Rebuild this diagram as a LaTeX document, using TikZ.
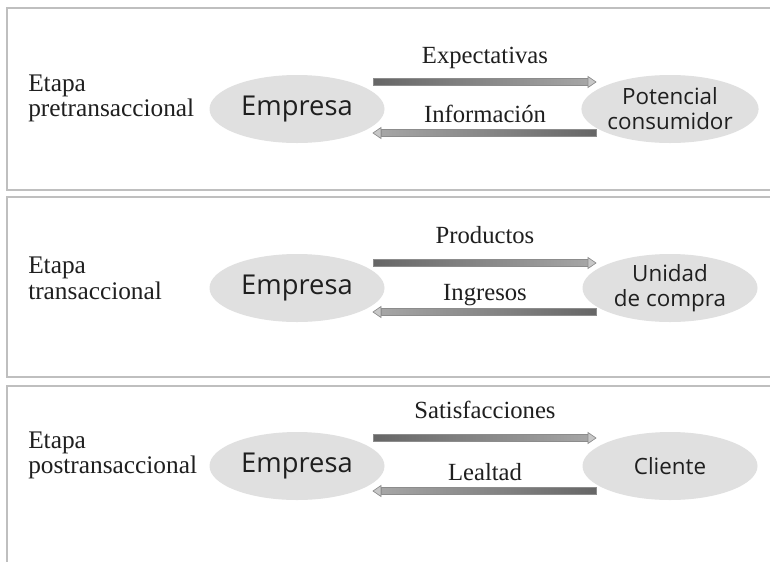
\documentclass[tikz,border=0pt]{standalone}
\usepackage{fontspec}
\setmainfont{Liberation Serif}
\newfontfamily\elfont{Open Sans}
\usetikzlibrary{shapes.geometric}
\newlength\unitpx
\setlength\unitpx{0.75pt}
\tikzset{
  stagebox/.style={draw=black!25, line width=1.4pt},
  bubble/.style={ellipse, fill=black!12, draw=none, minimum width=175\unitpx, minimum height=68\unitpx, inner sep=0pt, align=center},
  bigtxt/.style={font=\elfont\fontsize{20.5}{22}\selectfont, text=black!88},
  smalltxt/.style={font=\elfont\fontsize{16.8}{18.75}\selectfont, text=black!88},
  lbl/.style={font=\fontsize{18.5}{20}\selectfont, anchor=base, inner sep=0pt, text=black!88},
  stage/.style={font=\fontsize{19}{20}\selectfont, anchor=base west, inner sep=0pt, text=black!88},
}
% right-pointing arrow from x1 to x2 at y
\newcommand\myRarrow[3]{%
  \shade[left color=black!60, right color=black!35, draw=black!45, line width=0.3pt]
    (#1,#3-3.5) rectangle (#2-8,#3+3.5);
  \filldraw[fill=black!22, draw=black!45, line width=0.5pt]
    (#2-8,#3-5.5) -- (#2,#3) -- (#2-8,#3+5.5) -- cycle;}
\newcommand\myLarrow[3]{%
  \shade[left color=black!35, right color=black!60, draw=black!45, line width=0.3pt]
    (#1+8,#3-3.5) rectangle (#2,#3+3.5);
  \filldraw[fill=black!22, draw=black!45, line width=0.5pt]
    (#1+8,#3-5.5) -- (#1,#3) -- (#1+8,#3+5.5) -- cycle;}
\begin{document}
\begin{tikzpicture}[x=0.75pt,y=-0.75pt]
\useasboundingbox (0,0) rectangle (770,561);
\fill[white] (0,0) rectangle (770,561);
% boxes
\draw[stagebox] (775,8) -- (7,8) -- (7,190) -- (775,190);
\draw[stagebox] (775,197) -- (7,197) -- (7,377) -- (775,377);
\draw[stagebox] (775,386) -- (7,386) -- (7,565);
% stage 1
\node[stage] (s1a) at (28,91) {Etapa};
\node[stage] (s1b) at (28,116) {pretransaccional};
\node[bubble, bigtxt] (e1) at (297,109) {Empresa};
\node[bubble, smalltxt] (c1) at (670,109) {Potencial\\consumidor};
\node[lbl] (l1a) at (485,63) {Expectativas};
\node[lbl] (l1b) at (485,122) {Información};
\myRarrow{373}{596}{82}
\myLarrow{373}{596}{133}
% stage 2
\node[stage] (s2a) at (28,273) {Etapa};
\node[stage] (s2b) at (28,299) {transaccional};
\node[bubble, bigtxt] (e2) at (297,288) {Empresa};
\node[bubble, smalltxt] (c2) at (670,288) {Unidad\\de compra};
\node[lbl] (l2a) at (485,243) {Productos};
\node[lbl] (l2b) at (485,300) {Ingresos};
\myRarrow{373}{596}{263}
\myLarrow{373}{596}{312}
% stage 3
\node[stage] (s3a) at (28,448) {Etapa};
\node[stage] (s3b) at (28,473) {postransaccional};
\node[bubble, bigtxt] (e3) at (297,466) {Empresa};
\node[bubble, smalltxt] (c3) at (670,466) {Cliente};
\node[lbl] (l3a) at (485,418) {Satisfacciones};
\node[lbl] (l3b) at (485,480) {Lealtad};
\myRarrow{373}{596}{438}
\myLarrow{373}{596}{491}
\end{tikzpicture}
\end{document}
